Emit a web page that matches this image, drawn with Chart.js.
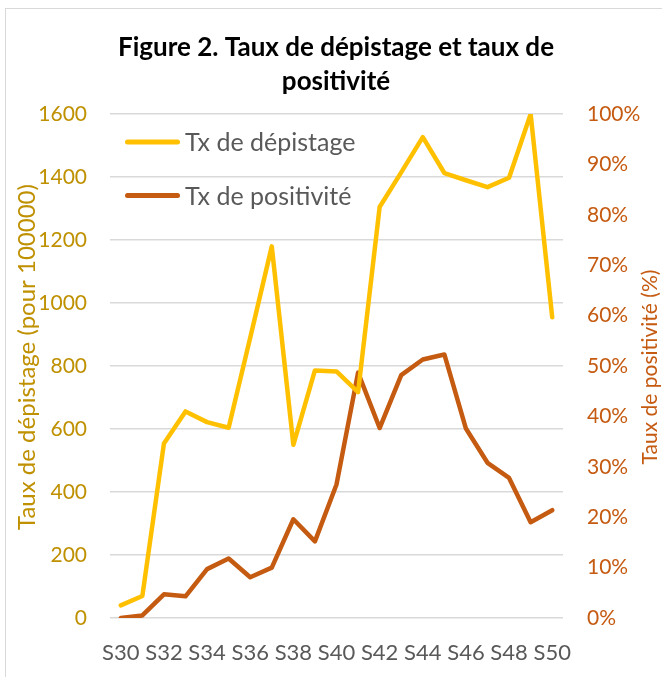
<!DOCTYPE html>
<html>
<head>
<meta charset="utf-8">
<script src="https://cdn.jsdelivr.net/npm/chart.js@4.4.1/dist/chart.umd.min.js"></script>
<style>
  html, body { margin: 0; padding: 0; background: #fff; }
  #frame { position: absolute; left: 5px; top: 8px; width: 670px; height: 680px; border: 1.5px solid #d9d9d9; box-sizing: border-box; }
  #wrap { position: absolute; left: 10px; top: 10px; width: 652px; height: 667px; }
</style>
</head>
<body>
<div id="frame"></div>
<div id="wrap"><canvas id="myChart"></canvas></div>
<script>
// weeks
const weeks = ['S30','S31','S32','S33','S34','S35','S36','S37','S38','S39','S40',
               'S41','S42','S43','S44','S45','S46','S47','S48','S49','S50'];
// taux de dépistage (pour 100000)
const txDepistage = [40, 70, 554, 656, 622, 604, 890, 1180, 550, 786, 783,
                     717, 1305, 1415, 1527, 1413, 1390, 1368, 1398, 1600, 955];
// taux de positivité (%)
const txPositivite = [0.0, 0.5, 4.7, 4.3, 9.7, 11.8, 8.1, 10.0, 19.6, 15.2, 26.5,
                      48.7, 37.7, 48.2, 51.3, 52.3, 37.6, 30.8, 27.8, 19.0, 21.4];

const leftTicks = [0, 200, 400, 600, 800, 1000, 1200, 1400, 1600];
const rightTicks = [0, 10, 20, 30, 40, 50, 60, 70, 80, 90, 100];

const gold = '#FFC000';
const goldText = '#BF9000';
const orange = '#C55A11';
const grey = '#595959';
const fontFam = 'Lato, "Open Sans", sans-serif';

// legend drawn inside the plot, top left (like the Excel one)
const plotLegend = {
  id: 'plotLegend',
  afterDraw(chart) {
    const c = chart.ctx, a = chart.chartArea;
    chart.data.datasets.forEach((ds, i) => {
      const y = a.top + 28 + i * 53.5;
      c.save();
      c.strokeStyle = ds.borderColor;
      c.lineWidth = 5;
      c.lineCap = 'round';
      c.beginPath();
      c.moveTo(a.left + 17.5, y);
      c.lineTo(a.left + 67.5, y);
      c.stroke();
      c.fillStyle = grey;
      c.font = '25px ' + fontFam;
      c.textBaseline = 'middle';
      c.fillText(ds.label, a.left + 75, y + 1);
      c.restore();
    });
  }
};

// both axis titles read bottom-to-top
const axisTitles = {
  id: 'axisTitles',
  afterDraw(chart) {
    const c = chart.ctx, a = chart.chartArea;
    const mid = (a.top + a.bottom) / 2;
    const draw = (text, x, y, color, size) => {
      c.save();
      c.translate(x, y);
      c.rotate(-Math.PI / 2);
      c.fillStyle = color;
      c.font = size + 'px ' + fontFam;
      c.textAlign = 'center';
      c.textBaseline = 'middle';
      c.fillText(text, 0, 0);
      c.restore();
    };
    draw('Taux de dépistage (pour 100000)', 17, mid - 9, goldText, 24);
    draw('Taux de positivité (%)', chart.width - 12, mid + 1, orange, 21);
  }
};

const ctx = document.getElementById('myChart').getContext('2d');
const myChart = new Chart(ctx, {
  type: 'line',
  data: {
    labels: weeks,
    datasets: [{
      label: 'Tx de dépistage',
      data: txDepistage,
      yAxisID: 'y',
      borderColor: gold,
      backgroundColor: gold,
      borderWidth: 4.5,
      pointRadius: 0,
      tension: 0,
      borderJoinStyle: 'round',
      borderCapStyle: 'round'
    }, {
      label: 'Tx de positivité',
      data: txPositivite,
      yAxisID: 'y1',
      borderColor: orange,
      backgroundColor: orange,
      borderWidth: 4.5,
      pointRadius: 0,
      tension: 0,
      borderJoinStyle: 'round',
      borderCapStyle: 'round'
    }]
  },
  options: {
    responsive: true,
    maintainAspectRatio: false,
    animation: false,
    layout: { padding: 0 },
    plugins: {
      title: {
        display: true,
        text: ['Figure 2. Taux de dépistage et taux de', 'positivité'],
        color: '#000',
        font: { family: fontFam, size: 26, weight: 'bold', lineHeight: 1.31 },
        padding: { top: 21, bottom: 15 }
      },
      legend: { display: false },
      tooltip: { enabled: false }
    },
    scales: {
      x: {
        offset: true,
        grid: { display: false, drawTicks: false },
        border: { display: false },
        ticks: {
          color: grey,
          font: { family: fontFam, size: 22 },
          autoSkip: false,
          maxRotation: 0,
          padding: 22,
          callback: function(v, i) { return i % 2 === 0 ? weeks[i] : ''; }
        },
        afterFit: function(s) { s.height = 59; }
      },
      y: {
        position: 'left',
        min: 0, max: 1600,
        afterBuildTicks: function(s) { s.ticks = leftTicks.map(v => ({ value: v })); },
        grid: { color: '#d9d9d9', lineWidth: 1.5, drawTicks: false },
        border: { display: false },
        ticks: {
          color: goldText,
          font: { family: fontFam, size: 21 },
          padding: 23,
          callback: function(v) { return String(v); }
        },
        afterFit: function(s) { s.width = 100; }
      },
      y1: {
        position: 'right',
        min: 0, max: 100,
        afterBuildTicks: function(s) { s.ticks = rightTicks.map(v => ({ value: v })); },
        grid: { display: false, drawTicks: false },
        border: { display: false },
        ticks: {
          color: orange,
          font: { family: fontFam, size: 21 },
          padding: 24,
          callback: function(v) { return v + '%'; }
        },
        afterFit: function(s) { s.width = 99; }
      }
    }
  },
  plugins: [plotLegend, axisTitles]
});
</script>
</body>
</html>
